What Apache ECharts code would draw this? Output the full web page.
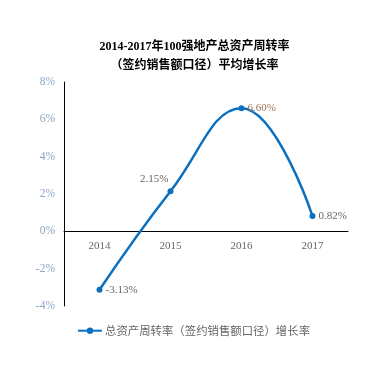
<!DOCTYPE html>
<html>
<head>
<meta charset="utf-8">
<script src="https://cdn.jsdelivr.net/npm/echarts@6/dist/echarts.min.js"></script>
<style>
  html, body { margin: 0; padding: 0; background: #fff; }
  #chart { width: 389px; height: 377px; }
</style>
</head>
<body>
<div id="chart"></div>
<script>
const years = ["2014", "2015", "2016", "2017"];
const growth = [-3.13, 2.15, 6.6, 0.82];
const seriesName = "总资产周转率（签约销售额口径）增长率";

const chart = echarts.init(document.getElementById("chart"));

const labelPos = ["right", "left", "right", "right"];
const labelColor = ["#666", "#666", "#9a7658", "#666"];

chart.setOption({
  animation: false,
  title: {
    text: "2014-2017年100强地产总资产周转率\n（签约销售额口径）平均增长率",
    left: "center",
    top: 32,
    textStyle: {
      fontFamily: "Liberation Serif, Noto Sans CJK SC",
      fontSize: 12,
      fontWeight: "bold",
      color: "#000",
      lineHeight: 19,
    },
  },
  legend: {
    data: [seriesName],
    left: 72,
    top: 320,
    itemWidth: 24,
    itemHeight: 8,
    itemGap: 4,
    textStyle: {
      fontFamily: "Noto Sans CJK SC",
      fontSize: 11.4,
      color: "#666",
      padding: [0, 0, 0, -2],
    },
  },
  grid: {
    left: 64,
    right: 41,
    top: 82,
    bottom: 71,
    containLabel: false,
  },
  xAxis: {
    type: "category",
    data: years,
    offset: -75,
    axisLine: { onZero: false, lineStyle: { color: "#000", width: 1 } },
    axisTick: { show: false },
    axisLabel: {
      margin: 10,
      fontFamily: "Liberation Serif",
      fontSize: 11,
      color: "#666",
    },
  },
  yAxis: {
    type: "value",
    min: -4,
    max: 8,
    interval: 2,
    axisLine: { show: true, lineStyle: { color: "#000", width: 1 } },
    axisTick: { show: false },
    splitLine: { show: false },
    axisLabel: {
      formatter: "{value}%",
      margin: 9,
      fontFamily: "Liberation Serif",
      fontSize: 11.5,
      color: "#8aa6c8",
    },
  },
  series: [
    {
      name: seriesName,
      type: "line",
      smooth: 0.45,
      data: growth.map((v, i) => ({
        value: v,
        label: {
          position: labelPos[i],
          color: labelColor[i],
          offset: i === 1 ? [4, -12] : [0, 0],
        },
      })),
      symbol: "circle",
      symbolSize: 6,
      lineStyle: { color: "#0a70bf", width: 2.5 },
      itemStyle: { color: "#0a70bf" },
      label: {
        show: true,
        formatter: (p) => p.value.toFixed(2) + "%",
        fontFamily: "Liberation Serif",
        fontSize: 11,
        distance: 3,
      },
    },
  ],
});
</script>
</body>
</html>
